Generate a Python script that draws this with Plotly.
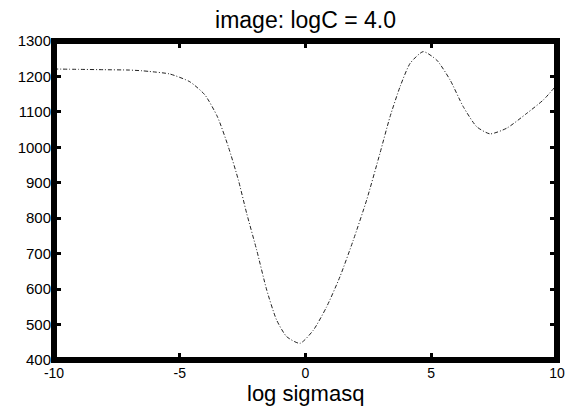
import plotly.graph_objects as go

# Data
log_sigmasq = [-10, -9, -8, -7, -6.5, -6.2, -5.4, -4.6, -4.0, -3.5, -3.07, -2.67,
               -2.34, -1.94, -1.54, -1.15, -0.75, -0.22, 0.31, 0.84, 1.37, 1.90,
               2.43, 2.96, 3.36, 3.76, 4.16, 4.68, 5.22, 5.75, 6.27, 6.81, 7.34,
               8.00, 8.80, 9.46, 10]
error_value = [1221, 1220, 1219, 1218, 1216, 1214, 1207, 1185, 1148, 1086, 1002, 908,
               814, 710, 597, 513, 466, 447, 484, 550, 635, 738,
               851, 983, 1086, 1171, 1237, 1270, 1246, 1190, 1115, 1058, 1038,
               1054, 1096, 1134, 1177]

x_ticks = [-10, -5, 0, 5, 10]
y_ticks = [400, 500, 600, 700, 800, 900, 1000, 1100, 1200, 1300]

fig = go.Figure()
fig.add_trace(go.Scatter(
    x=log_sigmasq, y=error_value, mode="lines",
    line=dict(color="#222222", width=1, dash="4px,2px,1px,2px", shape="spline", smoothing=0.6),
    showlegend=False, hoverinfo="skip", cliponaxis=True,
))

font = "Liberation Sans, Arial, sans-serif"
fig.update_layout(
    width=574, height=406,
    margin=dict(l=54, r=17, t=41, b=46, pad=0),
    paper_bgcolor="white", plot_bgcolor="white",
    font=dict(family=font, color="black"),
    title=dict(text="image: logC = 4.0", font=dict(size=23, family=font, color="black"),
               x=0.5, xref="paper", xanchor="center",
               y=1 - 20 / 406, yref="container", yanchor="middle"),
    shapes=[dict(type="rect", xref="paper", yref="paper", x0=0, x1=1, y0=0, y1=1,
                 line=dict(color="black", width=6), layer="above")],
    annotations=[dict(text="log sigmasq", xref="paper", yref="paper", x=0.5, y=-33 / 319,
                      xanchor="center", yanchor="middle", showarrow=False,
                      font=dict(size=22, family=font, color="black"))],
)
fig.update_xaxes(
    range=[-10, 10], tickvals=x_ticks, ticktext=[str(v) for v in x_ticks],
    showgrid=False, zeroline=False, showline=False, automargin=False,
    ticks="inside", ticklen=7, tickwidth=3, tickcolor="black", mirror="ticks",
    tickfont=dict(size=14, family=font, color="black"), ticklabelstandoff=3,
)
fig.update_yaxes(
    range=[400, 1300], tickvals=y_ticks, ticktext=[str(v) for v in y_ticks],
    showgrid=False, zeroline=False, showline=False, automargin=False,
    ticks="inside", ticklen=7, tickwidth=3, tickcolor="black", mirror="ticks",
    tickfont=dict(size=15, family=font, color="black"), ticklabelstandoff=2,
)

fig.write_html("out.html", config={"displayModeBar": False},
               post_script="document.body.style.margin='0';document.body.style.padding='0';")
